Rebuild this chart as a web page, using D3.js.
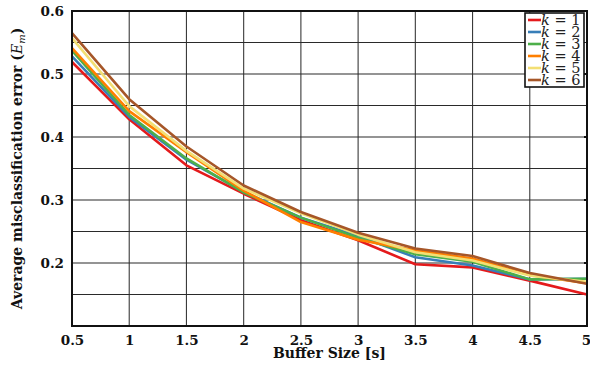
<!DOCTYPE html>
<html>
<head>
<meta charset="utf-8">
<script src="https://cdn.jsdelivr.net/npm/d3@7"></script>
<style>
  body { margin: 0; background: #fff; }
  svg { display: block; }
  .tick-label { font-family: "DejaVu Serif", serif; font-weight: bold; font-size: 13.5px; fill: #111; }
  .axis-title { font-family: "DejaVu Serif", serif; font-weight: bold; font-size: 14px; fill: #111; }
  .legend-text { font-family: "DejaVu Serif", serif; font-size: 14.5px; fill: #222; }
</style>
</head>
<body>
<svg id="chart" width="590" height="366"></svg>
<script>
/* ---------- data ---------- */
const bufferSizes = [0.5, 1, 1.5, 2, 2.5, 3, 3.5, 4, 4.5, 5];
const seriesNames = ['1', '2', '3', '4', '5', '6'];
const seriesColors = ['#e41a1c', '#377eb8', '#4daf4a', '#ff7f00', '#f3df74', '#a65628'];

const errK1 = [0.519, 0.428, 0.355, 0.310, 0.268, 0.236, 0.198, 0.193, 0.172, 0.150];
const errK2 = [0.528, 0.432, 0.364, 0.313, 0.272, 0.243, 0.209, 0.196, 0.174, 0.175];
const errK3 = [0.537, 0.435, 0.366, 0.312, 0.272, 0.240, 0.214, 0.202, 0.174, 0.175];
const errK4 = [0.541, 0.441, 0.376, 0.315, 0.265, 0.237, 0.220, 0.207, 0.181, 0.168];
const errK5 = [0.557, 0.449, 0.378, 0.318, 0.279, 0.245, 0.217, 0.204, 0.180, 0.170];
const errK6 = [0.565, 0.460, 0.385, 0.323, 0.281, 0.248, 0.223, 0.211, 0.184, 0.167];
const allSeries = [errK1, errK2, errK3, errK4, errK5, errK6];

const xTicks = [0.5, 1, 1.5, 2, 2.5, 3, 3.5, 4, 4.5, 5];
const yTicks = [0.2, 0.3, 0.4, 0.5, 0.6];
const yGrid = [0.15, 0.2, 0.25, 0.3, 0.35, 0.4, 0.45, 0.5, 0.55];

/* ---------- layout ---------- */
const margin = { left: 72, right: 3, top: 11, bottom: 40 };
const W = 590, H = 366;
const svg = d3.select('#chart');

const x = d3.scaleLinear().domain([0.5, 5]).range([margin.left, W - margin.right]);
const y = d3.scaleLinear().domain([0.1, 0.6]).range([H - margin.bottom, margin.top]);

/* ---------- grid ---------- */
const grid = svg.append('g').attr('class', 'grid');
grid.selectAll('line.v')
  .data(xTicks.slice(1, -1))
  .join('line')
  .attr('x1', d => x(d)).attr('x2', d => x(d))
  .attr('y1', y(0.1)).attr('y2', y(0.6))
  .attr('stroke', '#3a3a3a').attr('stroke-width', 1.1);
grid.selectAll('line.h')
  .data(yGrid)
  .join('line')
  .attr('x1', x(0.5)).attr('x2', x(5))
  .attr('y1', d => y(d)).attr('y2', d => y(d))
  .attr('stroke', '#2a2a2a').attr('stroke-width', 1.1);

/* ---------- lines ---------- */
const line = d3.line()
  .x((d, i) => x(bufferSizes[i]))
  .y(d => y(d));

svg.append('g').selectAll('path')
  .data(allSeries)
  .join('path')
  .attr('d', line)
  .attr('fill', 'none')
  .attr('stroke', (d, i) => seriesColors[i])
  .attr('stroke-width', 2.6)
  .attr('stroke-linejoin', 'round');

/* ---------- frame + axes ---------- */
svg.append('rect')
  .attr('x', x(0.5)).attr('y', y(0.6))
  .attr('width', x(5) - x(0.5)).attr('height', y(0.1) - y(0.6))
  .attr('fill', 'none').attr('stroke', '#111').attr('stroke-width', 2);

const xAxis = d3.axisBottom(x).tickValues(xTicks).tickSize(0).tickPadding(9)
  .tickFormat(d3.format('~g'));
const gx = svg.append('g').attr('transform', `translate(0,${y(0.1)})`).call(xAxis);
gx.select('.domain').remove();
gx.selectAll('text').attr('class', 'tick-label').attr('fill', null);
// keep the last label inside the window
gx.selectAll('.tick').filter(d => d === 5).select('text').attr('dx', -1);

const yAxis = d3.axisLeft(y).tickValues(yTicks).tickSize(0).tickPadding(8)
  .tickFormat(d3.format('.1f'));
const gy = svg.append('g').attr('transform', `translate(${x(0.5)},0)`).call(yAxis);
gy.select('.domain').remove();
gy.selectAll('text').attr('class', 'tick-label').attr('fill', null);

// short tick marks on the right edge, as in the reference
svg.append('g').selectAll('line')
  .data(yTicks)
  .join('line')
  .attr('x1', x(5) - 3).attr('x2', x(5))
  .attr('y1', d => y(d)).attr('y2', d => y(d))
  .attr('stroke', '#111').attr('stroke-width', 2);

/* ---------- titles ---------- */
svg.append('text')
  .attr('class', 'axis-title')
  .attr('x', (x(0.5) + x(5)) / 2).attr('y', 358)
  .attr('text-anchor', 'middle')
  .text('Buffer Size [s]');

const yt = svg.append('text')
  .attr('class', 'axis-title')
  .attr('transform', `translate(22,${(y(0.1) + y(0.6)) / 2}) rotate(-90)`)
  .attr('text-anchor', 'middle');
yt.append('tspan').text('Average misclassification error (');
yt.append('tspan').attr('font-style', 'italic').attr('font-weight', 'normal').text('E');
yt.append('tspan').attr('font-style', 'italic').attr('font-weight', 'normal')
  .attr('font-size', '10px').attr('dy', 3).text('m');
yt.append('tspan').attr('dy', -3).text(')');

/* ---------- legend ---------- */
const lg = svg.append('g').attr('transform', 'translate(525,13)');
lg.append('rect')
  .attr('width', 59).attr('height', 74)
  .attr('fill', '#fff').attr('stroke', '#111').attr('stroke-width', 1.6);
seriesNames.forEach((name, i) => {
  const cy = 7 + i * 12;
  lg.append('line')
    .attr('x1', 3).attr('x2', 16).attr('y1', cy).attr('y2', cy)
    .attr('stroke', seriesColors[i]).attr('stroke-width', 2.6);
  const t = lg.append('text').attr('class', 'legend-text')
    .attr('x', 16).attr('y', cy + 5);
  t.append('tspan').attr('font-style', 'italic').text('k');
  t.append('tspan').text(' = ' + name);
});
</script>
</body>
</html>
